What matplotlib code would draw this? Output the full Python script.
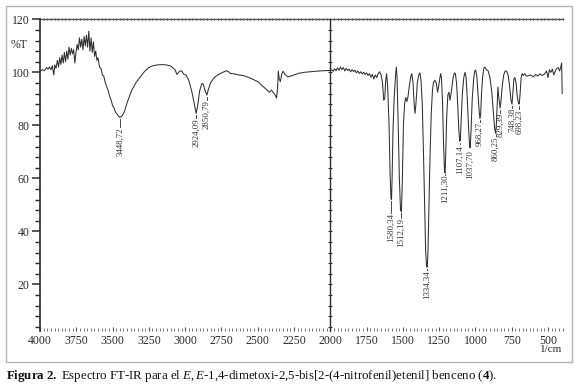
import matplotlib
matplotlib.use('Agg')
import matplotlib.pyplot as plt
import numpy as np
from matplotlib.ticker import MultipleLocator
from matplotlib.patches import Rectangle

plt.rcParams['font.family'] = 'Liberation Serif'
plt.rcParams['mathtext.fontset'] = 'custom'
plt.rcParams['mathtext.rm'] = 'Liberation Serif'
plt.rcParams['mathtext.it'] = 'Liberation Serif:italic'
plt.rcParams['mathtext.bf'] = 'Liberation Serif:bold'

# --- spectrum (wavenumber 1/cm, %T)
# 4000-3250: noisy region and O-H band
wn_a = [4000, 3985, 3970, 3955, 3945, 3935, 3925, 3915, 3905, 3898,
        3890, 3880, 3872, 3864, 3856, 3848, 3840, 3832, 3824, 3816,
        3808, 3800, 3792, 3784, 3776, 3768, 3760, 3752, 3744, 3736,
        3728, 3720, 3712, 3704, 3696, 3688, 3680, 3672, 3664, 3656,
        3648, 3640, 3632, 3624, 3616, 3608, 3600, 3590, 3580, 3570,
        3560, 3550, 3540, 3530, 3520, 3510, 3500, 3490, 3480, 3470,
        3460, 3448, 3435, 3420, 3400, 3370, 3340, 3310, 3280, 3250]
t_a = [100.5, 101.0, 100.6, 101.8, 101.2, 102.0, 101.0, 102.5, 99.0, 102.8,
       101.5, 104.5, 102.0, 105.5, 103.0, 106.5, 103.5, 107.5, 104.0, 108.0,
       105.0, 109.5, 106.5, 109.0, 107.0, 108.5, 103.5, 107.5, 110.5, 108.5,
       113.0, 109.5, 112.5, 108.5, 113.5, 110.0, 114.0, 109.5, 115.5, 108.0,
       113.0, 107.5, 111.5, 106.0, 108.0, 104.5, 105.5, 102.0, 101.5, 99.0,
       98.5, 96.0, 94.5, 93.0, 91.0, 89.5, 87.5, 86.5, 85.0, 84.3,
       83.5, 83.0, 83.5, 85.0, 88.5, 93.0, 96.0, 98.2, 100.3, 101.8]

# 3220-2000: C-H bands
wn_b = [3220, 3190, 3160, 3130, 3100, 3080, 3070, 3056, 3040, 3025,
        3010, 2995, 2975, 2955, 2940, 2930, 2924, 2912, 2900, 2885,
        2875, 2865, 2850, 2840, 2825, 2800, 2770, 2740, 2715, 2700,
        2690, 2660, 2630, 2600, 2550, 2500, 2470, 2440, 2420, 2405,
        2395, 2380, 2370, 2362, 2358, 2352, 2344, 2334, 2325, 2310,
        2290, 2260, 2220, 2180, 2140, 2100, 2050, 2000]
t_b = [102.5, 102.8, 102.9, 102.8, 102.4, 101.5, 101.0, 99.2, 100.3, 100.6,
       99.3, 99.0, 97.0, 93.0, 89.0, 86.0, 84.5, 88.0, 93.0, 95.8,
       95.5, 93.5, 91.4, 93.5, 96.0, 98.0, 99.2, 100.0, 100.6, 100.2,
       99.6, 99.4, 99.0, 98.8, 97.8, 96.5, 95.0, 93.5, 92.5, 93.3,
       92.5, 91.5, 90.3, 95.0, 100.5, 97.5, 96.5, 99.5, 100.4, 99.0,
       98.3, 98.8, 99.6, 100.0, 100.2, 100.4, 100.6, 100.7]

# 1990-400: fingerprint region
wn_c = [1990, 1980, 1970, 1960, 1950, 1940, 1930, 1920, 1910, 1900,
        1890, 1880, 1870, 1860, 1850, 1840, 1830, 1820, 1810, 1800,
        1790, 1780, 1770, 1760, 1750, 1740, 1730, 1720, 1710, 1700,
        1690, 1680, 1670, 1660, 1650, 1640, 1632, 1625, 1618, 1612,
        1605, 1595, 1588, 1582, 1578, 1574, 1568, 1560, 1550, 1545,
        1540, 1532, 1524, 1516, 1510, 1504, 1496, 1488, 1480, 1472,
        1464, 1455, 1445, 1438, 1430, 1422, 1416, 1410, 1400, 1390,
        1382, 1375, 1366, 1358, 1350, 1343, 1337, 1332, 1327, 1320,
        1312, 1304, 1296, 1290, 1280, 1270, 1260, 1250, 1240, 1234,
        1226, 1220, 1213, 1209, 1204, 1198, 1190, 1182, 1175, 1165,
        1155, 1145, 1138, 1130, 1122, 1114, 1108, 1104, 1098, 1090,
        1080, 1072, 1064, 1056, 1048, 1040, 1036, 1030, 1022, 1012,
        1005, 998, 990, 982, 975, 969, 964, 958, 950, 942,
        935, 925, 912, 900, 888, 878, 868, 861, 856, 850,
        845, 838, 830, 824, 815, 805, 795, 785, 775, 765,
        755, 748, 742, 735, 728, 720, 712, 704, 698, 692,
        685, 678, 670, 660, 650, 640, 620, 600, 585, 570,
        555, 540, 525, 510, 500, 490, 480, 470, 460, 450,
        440, 430, 420, 412, 406, 404, 402]
t_c = [100.9, 100.4, 101.3, 100.6, 101.7, 100.8, 102.0, 101.0, 101.8, 100.5,
       101.5, 100.7, 101.2, 100.2, 101.0, 100.3, 100.8, 99.8, 100.5, 99.6,
       100.2, 99.4, 100.0, 99.2, 99.8, 98.8, 99.5, 98.2, 99.2, 97.5,
       99.0, 98.0, 99.5, 100.2, 99.0, 96.0, 89.5, 90.0, 97.0, 99.5,
       95.0, 80.0, 62.0, 52.5, 52.0, 60.0, 78.0, 90.0, 99.0, 102.0,
       98.0, 80.0, 60.0, 48.0, 47.5, 58.0, 80.0, 88.0, 90.5, 89.0,
       91.0, 95.0, 98.5, 99.5, 96.0, 88.0, 84.5, 88.0, 96.0, 99.0,
       99.8, 97.0, 88.0, 70.0, 50.0, 33.0, 27.0, 26.5, 32.0, 50.0,
       70.0, 85.0, 93.0, 96.0, 97.0, 96.0, 92.5, 96.0, 99.5, 98.0,
       88.0, 74.0, 62.5, 62.0, 70.0, 83.0, 91.5, 92.5, 89.5, 93.0,
       97.5, 99.8, 99.5, 96.0, 88.0, 78.0, 74.0, 74.5, 82.0, 92.0,
       98.0, 100.0, 98.0, 90.0, 80.0, 72.0, 71.5, 78.0, 90.0, 97.5,
       100.5, 100.8, 98.5, 92.0, 86.0, 82.5, 84.0, 92.0, 98.5, 101.5,
       102.0, 101.0, 100.5, 98.0, 93.0, 86.0, 79.0, 77.0, 80.0, 88.0,
       94.5, 90.0, 86.5, 89.0, 95.0, 99.0, 100.5, 100.4, 99.0, 95.0,
       89.5, 88.0, 92.0, 97.5, 98.0, 96.0, 91.0, 88.5, 88.0, 92.0,
       98.0, 99.5, 98.8, 99.5, 98.6, 98.6, 99.0, 98.3, 99.2, 98.6,
       99.4, 98.8, 99.3, 100.5, 98.0, 101.0, 100.0, 101.2, 99.0, 100.5,
       101.5, 101.8, 100.5, 102.0, 103.5, 97.0, 92.0]

# peak labels: position, %T of the dip, %T where the text starts
peak_wn = [3448.72, 2924.09, 2850.79, 1580.34, 1512.19, 1334.34, 1211.30,
           1107.14, 1037.70, 968.27, 860.25, 829.39, 748.38, 698.23]
peak_dip = [83.0, 84.5, 91.4, 52.0, 47.5, 26.5, 62.0,
            74.0, 71.5, 82.5, 77.0, 86.5, 88.0, 88.0]
peak_txt_top = [79.3, 82.7, 89.5, 46.9, 45.0, 25.4, 61.6,
                72.6, 70.7, 81.2, 75.6, 84.6, 86.5, 85.8]

wn = np.array(wn_a + wn_b + wn_c, dtype=float)
T = np.array(t_a + t_b + t_c)

ink = '#2b2b2b'
W, H = 575, 384
fig = plt.figure(figsize=(W / 100, H / 100), dpi=100)
ax = fig.add_axes([40 / W, 1 - 330.5 / H, (562.5 - 40) / W, (330.5 - 19.3) / H])

ax.plot(wn, T, color='#303030', lw=0.75)
ax.set_xlim(4000, 400)
ax.set_ylim(2.6, 120)

for side in ['top', 'right', 'bottom']:
    ax.spines[side].set_visible(False)
ax.spines['left'].set_linewidth(1.2)
ax.spines['left'].set_color(ink)

ax.xaxis.set_major_locator(MultipleLocator(250))
ax.xaxis.set_minor_locator(MultipleLocator(25))
ax.yaxis.set_major_locator(MultipleLocator(20))
ax.yaxis.set_minor_locator(MultipleLocator(4))
ax.tick_params(axis='x', which='major', direction='in', length=3, width=0.8,
               pad=3, labelsize=8.5, color='#555555', labelcolor=ink)
ax.tick_params(axis='x', which='minor', direction='in', length=2, width=0.7,
               color='#777777')
ax.tick_params(axis='y', which='major', direction='out', length=6, width=1.1,
               pad=1.5, labelsize=8.5, color=ink, labelcolor=ink)
ax.tick_params(axis='y', which='minor', direction='out', length=3.5, width=1.0,
               color=ink)

# top line at 120 %T with its small ticks
top_ticks = np.arange(4000, 399, -25)
ax.plot([4000, 400], [120, 120], color='#555555', lw=1.0, clip_on=False)
ax.plot(top_ticks, np.full(len(top_ticks), 120.0), ls='none', marker='|',
        ms=1.8, mew=0.8, color='#555555', clip_on=False)

# divider at 2000 1/cm
div_ticks = np.arange(4, 120, 4)
ax.plot([2000, 2000], [2.6, 120], color=ink, lw=1.0, clip_on=False)
ax.plot(np.full(len(div_ticks), 2000.0), div_ticks, ls='none', marker='_',
        ms=3.0, mew=0.8, color=ink)

# peak labels with leaders
for x, d, top in zip(peak_wn, peak_dip, peak_txt_top):
    ax.plot([x, x], [d - 0.6, top + 0.2], color=ink, lw=0.6)
    ax.text(x, top, f'{x:.2f}'.replace('.', ','), rotation=90, ha='center',
            va='top', fontsize=6.3, color='#333333')

fig.text(19 / W, 1 - 45 / H, '%T', ha='center', va='center', fontsize=8.5, color=ink)
fig.text(562 / W, 1 - 350 / H, '1/cm', ha='right', va='center', fontsize=8, color=ink)

fig.add_artist(Rectangle((6 / W, 1 - 362 / H), 566 / W, 356 / H,
                         transform=fig.transFigure, fill=False,
                         ec='#b5b5b5', lw=1.0))

caption = (r'$\mathbf{Figura\ 2.}$ Espectro FT-IR para el $E,E$-1,4-dimetoxi-2,5-'
           r'bis[2-(4-nitrofenil)etenil] benceno ($\mathbf{4}$).')
fig.text(6 / W, 1 - 376 / H, caption, ha='left', va='center', fontsize=9.3,
         color='#111111')

fig.savefig('out.png', dpi=100)
